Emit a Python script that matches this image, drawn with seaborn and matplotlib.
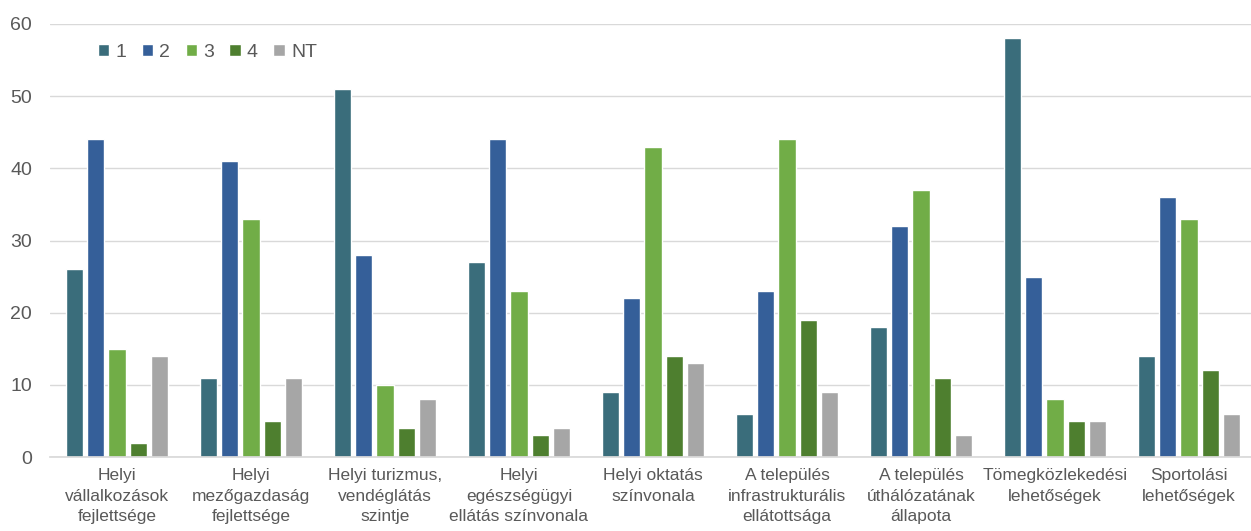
import matplotlib
matplotlib.use("Agg")
import matplotlib.pyplot as plt
import pandas as pd
import seaborn as sns

categories = [
    "Helyi\nvállalkozások\nfejlettsége",
    "Helyi\nmezőgazdaság\nfejlettsége",
    "Helyi turizmus,\nvendéglátás\nszintje",
    "Helyi\negészségügyi\nellátás színvonala",
    "Helyi oktatás\nszínvonala",
    "A település\ninfrastrukturális\nellátottsága",
    "A település\núthálózatának\nállapota",
    "Tömegközlekedési\nlehetőségek",
    "Sportolási\nlehetőségek",
]
series = ["1", "2", "3", "4", "NT"]
v1 = [26, 11, 51, 27, 9, 6, 18, 58, 14]
v2 = [44, 41, 28, 44, 22, 23, 32, 25, 36]
v3 = [15, 33, 10, 23, 43, 44, 37, 8, 33]
v4 = [2, 5, 4, 3, 14, 19, 11, 5, 12]
vnt = [14, 11, 8, 4, 13, 9, 3, 5, 6]
colors = ["#3A6D7B", "#355F99", "#71AD47", "#4E7F2F", "#A6A6A6"]

rows = []
for s, vals in zip(series, [v1, v2, v3, v4, vnt]):
    for c, v in zip(categories, vals):
        rows.append({"cat": c, "series": s, "value": v})
df = pd.DataFrame(rows)

sns.set_theme(style="white")
plt.rcParams["font.family"] = ["Liberation Sans", "DejaVu Sans"]

fig = plt.figure(figsize=(12.51, 5.31), dpi=100)
ax = fig.add_axes([50 / 1251, 74 / 531, 1206 / 1251, 433 / 531])
sns.barplot(data=df, x="cat", y="value", hue="series", hue_order=series,
            palette=colors, width=0.785, gap=0.19, ax=ax, saturation=1)

ax.set_ylim(0, 60)
ax.set_xlim(-0.5, len(categories) - 0.5)
ax.set_yticks(range(0, 61, 10))
ax.yaxis.grid(True, color="#D9D9D9", linewidth=1)
ax.set_axisbelow(True)
for sp in ["top", "right", "left"]:
    ax.spines[sp].set_visible(False)
ax.spines["bottom"].set_color("#D9D9D9")
ax.set_xlabel("")
ax.set_ylabel("")
ax.tick_params(axis="y", length=0, labelsize=14, labelcolor="#595959", pad=13)
ax.tick_params(axis="x", length=0, pad=8)
for lab in ax.get_xticklabels():
    lab.set_fontsize(12.5)
    lab.set_color("#595959")
    lab.set_linespacing(1.45)

ax.legend(loc="upper left", bbox_to_anchor=(0.025, 0.995), ncol=5, frameon=False,
          fontsize=14, labelcolor="#595959", handlelength=0.6, handleheight=0.6,
          handletextpad=0.3, columnspacing=0.8)

fig.savefig("out.png", dpi=100)
